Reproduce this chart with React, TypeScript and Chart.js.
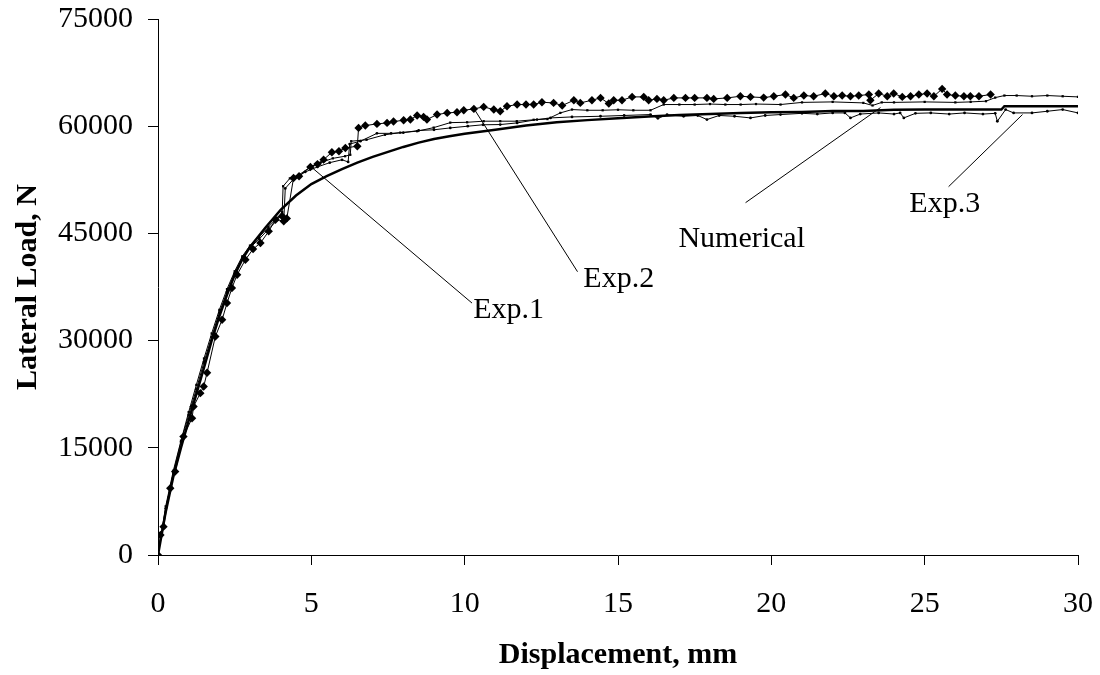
import React, { useEffect, useRef } from "react";
import { Chart, registerables } from "chart.js";

Chart.register(...registerables);

// ---- axis ticks ----
const X_TICKS = [0, 5, 10, 15, 20, 25, 30];
const Y_TICKS = [0, 15000, 30000, 45000, 60000, 75000];

// ---- Exp.1 (small square markers) ----
const EXP1_X = [0, 0.25, 0.5, 0.75, 1.0, 1.25, 1.5, 1.75, 2.0, 2.25, 2.5, 2.75, 3.0, 3.3, 3.6, 3.9, 4.05, 4.08, 4.3, 4.6, 4.97, 5.3, 5.7, 6.1, 6.27, 6.3, 6.8, 7.4, 7.9, 8.45, 8.99, 9.53, 10.08, 10.62, 11.16, 11.7, 12.25, 12.7, 13.12, 13.5, 14, 14.5, 15, 15.5, 16.06, 16.49, 17, 17.5, 18, 18.5, 19, 19.5, 20.3, 21, 22, 23, 23.3, 23.6, 24, 25, 26, 26.5, 27, 27.3, 27.6, 28, 28.5, 29, 29.5, 30];
const EXP1_Y = [0, 6800, 11800, 16000, 20000, 23800, 27500, 31000, 34300, 37200, 39700, 41800, 43300, 44500, 45900, 47200, 48000, 51600, 52700, 53200, 54300, 54900, 55500, 55800, 56000, 57900, 58100, 58800, 59100, 59300, 59800, 60500, 60550, 60700, 60700, 60700, 60900, 61000, 61860, 62330, 62230, 62230, 62300, 62230, 62230, 63030, 63030, 63030, 63100, 63030, 63030, 63100, 63030, 63330, 63400, 63260, 62900, 63330, 63330, 63400, 63330, 63400, 63500, 64000, 64290, 64290, 64190, 64290, 64190, 64100];

// ---- Exp.2 (diamond markers) ----
const EXP2_X = [0, 0.08, 0.18, 0.4, 0.56, 0.83, 1.11, 1.16, 1.38, 1.49, 1.6, 1.87, 2.09, 2.25, 2.41, 2.58, 2.85, 3.1, 3.34, 3.61, 3.83, 4.05, 4.1, 4.2, 4.42, 4.6, 4.97, 5.2, 5.4, 5.67, 5.9, 6.11, 6.5, 6.54, 6.76, 7.14, 7.47, 7.68, 8.01, 8.23, 8.45, 8.66, 8.77, 9.1, 9.43, 9.75, 9.97, 10.3, 10.62, 10.95, 11.16, 11.38, 11.71, 12.0, 12.25, 12.52, 12.9, 13.18, 13.56, 13.77, 14.15, 14.43, 14.7, 14.86, 15.13, 15.46, 15.84, 16.0, 16.27, 16.49, 16.82, 17.2, 17.5, 17.9, 18.12, 18.56, 18.99, 19.32, 19.75, 20.08, 20.46, 20.73, 21.06, 21.38, 21.76, 22.04, 22.31, 22.58, 22.85, 23.18, 23.23, 23.5, 23.78, 23.99, 24.27, 24.54, 24.81, 25.08, 25.3, 25.57, 25.73, 26.0, 26.28, 26.49, 26.77, 27.15];
const EXP2_Y = [0, 2800, 3970, 9340, 11670, 16570, 19140, 20770, 22650, 23580, 25500, 30580, 32910, 35250, 37350, 39220, 41320, 42800, 43660, 45290, 46920, 47400, 46700, 47100, 52760, 53000, 54300, 54700, 55320, 56350, 56500, 56960, 57200, 59760, 60090, 60320, 60460, 60650, 60830, 60930, 61490, 61300, 60930, 61630, 61860, 61950, 62230, 62420, 62700, 62330, 62090, 62790, 63030, 63030, 63030, 63350, 63260, 62890, 63630, 63260, 63630, 63960, 63170, 63630, 63630, 64100, 64100, 63630, 63820, 63630, 63960, 63960, 63960, 63960, 63820, 63960, 64190, 64100, 64000, 64190, 64430, 63960, 64290, 64190, 64570, 64190, 64290, 64190, 64290, 64430, 63630, 64570, 64190, 64570, 64100, 64190, 64430, 64570, 64190, 65220, 64430, 64290, 64190, 64190, 64190, 64430];

// ---- Exp.3 (small dot markers, jagged plateau) ----
const EXP3_X = [0, 0.25, 0.5, 0.75, 1.0, 1.25, 1.5, 1.75, 2.0, 2.25, 2.5, 2.75, 3.0, 3.3, 3.6, 3.9, 4.1, 4.15, 4.4, 4.8, 5.2, 5.6, 6.0, 6.2, 6.25, 6.6, 7.14, 7.6, 8.0, 8.5, 9.0, 9.53, 10.1, 10.6, 11.16, 11.71, 12.36, 12.8, 13.5, 14.43, 15.2, 16.06, 16.3, 16.6, 17.14, 17.6, 17.9, 18.3, 18.8, 19.32, 19.8, 20.3, 21, 21.5, 22, 22.4, 22.58, 22.9, 23.5, 24, 24.2, 24.32, 24.7, 25.2, 25.8, 26.3, 26.9, 27.3, 27.37, 27.64, 27.9, 28.5, 29.0, 29.5, 30];
const EXP3_Y = [0, 6500, 11500, 15800, 19600, 23200, 27000, 30500, 33900, 36800, 39400, 41600, 43000, 44200, 45600, 46900, 46700, 51300, 52500, 53600, 54300, 54900, 55300, 55000, 57500, 57900, 59000, 59000, 59100, 59400, 59500, 59760, 60000, 60200, 60230, 60460, 60930, 61160, 61300, 61390, 61500, 61630, 61100, 61600, 61390, 61500, 60930, 61500, 61390, 61160, 61500, 61630, 61800, 61700, 61860, 61860, 61160, 61700, 61860, 61700, 61860, 61160, 61800, 61860, 61700, 61860, 61700, 61800, 60690, 62330, 61860, 61860, 62090, 62330, 61860];

// ---- Numerical ----
const NUM_X = [0, 0.25, 0.5, 0.75, 1, 1.25, 1.5, 1.75, 2, 2.25, 2.5, 2.75, 3, 3.5, 4, 4.5, 5, 5.5, 6, 6.5, 7, 7.5, 8, 8.5, 9, 9.5, 10, 11, 12, 13, 14, 15, 16, 17, 18, 19, 20, 21, 22, 23, 24, 25, 26, 27, 27.5, 27.6, 28, 29, 30];
const NUM_Y = [0, 6000, 11000, 15000, 18800, 22500, 26200, 30000, 33400, 36400, 39200, 41400, 43100, 45800, 48300, 50300, 51900, 53000, 54000, 54900, 55700, 56400, 57100, 57700, 58200, 58600, 58950, 59500, 60100, 60550, 60850, 61100, 61350, 61550, 61720, 61850, 61950, 62000, 62140, 62140, 62300, 62330, 62330, 62330, 62330, 62790, 62790, 62790, 62790];

// ---- annotation labels (data coordinates) ----
const LABEL_TEXT = ["Exp.1", "Exp.2", "Numerical", "Exp.3"];
const LABEL_POS_X = [10.28, 13.87, 16.97, 24.5];
const LABEL_POS_Y = [33190, 37540, 43140, 48040];
const LEADER_FROM_X = [4.97, 10.28, 23.56, 28.19];
const LEADER_FROM_Y = [54390, 62610, 62610, 61630];
const LEADER_TO_X = [10.24, 13.68, 19.16, 25.78];
const LEADER_TO_Y = [35250, 39640, 49300, 51540];

const FONT = "'Liberation Serif', 'Times New Roman', serif";

const zip = (xs: number[], ys: number[]) => xs.map((x, i) => ({ x, y: ys[i] }));

const annotationPlugin = {
  id: "leaderLabels",
  afterDatasetsDraw(chart: any) {
    const { ctx, scales } = chart;
    const xs = scales.x;
    const ys = scales.y;
    ctx.save();
    ctx.strokeStyle = "#000";
    ctx.lineWidth = 1;
    for (let i = 0; i < LABEL_TEXT.length; i++) {
      ctx.beginPath();
      ctx.moveTo(xs.getPixelForValue(LEADER_FROM_X[i]), ys.getPixelForValue(LEADER_FROM_Y[i]));
      ctx.lineTo(xs.getPixelForValue(LEADER_TO_X[i]), ys.getPixelForValue(LEADER_TO_Y[i]));
      ctx.stroke();
    }
    ctx.fillStyle = "#000";
    ctx.font = `30px ${FONT}`;
    ctx.textAlign = "left";
    ctx.textBaseline = "alphabetic";
    for (let i = 0; i < LABEL_TEXT.length; i++) {
      ctx.fillText(LABEL_TEXT[i], xs.getPixelForValue(LABEL_POS_X[i]), ys.getPixelForValue(LABEL_POS_Y[i]));
    }
    ctx.restore();
  },
};

export default function App() {
  const ref = useRef<HTMLCanvasElement | null>(null);

  useEffect(() => {
    if (!ref.current) return;
    const black = "#000";
    const chart = new Chart(ref.current, {
      type: "line",
      data: {
        datasets: [
          {
            label: "Numerical",
            data: zip(NUM_X, NUM_Y),
            borderColor: black,
            backgroundColor: black,
            borderWidth: 2.5,
            pointRadius: 0,
          },
          {
            label: "Exp.3",
            data: zip(EXP3_X, EXP3_Y),
            borderColor: black,
            backgroundColor: black,
            borderWidth: 1,
            pointStyle: "circle",
            pointRadius: 1.4,
            pointBorderWidth: 0,
          },
          {
            label: "Exp.1",
            data: zip(EXP1_X, EXP1_Y),
            borderColor: black,
            backgroundColor: black,
            borderWidth: 1,
            pointStyle: "rect",
            pointRadius: 1.6,
            pointBorderWidth: 0,
          },
          {
            label: "Exp.2",
            data: zip(EXP2_X, EXP2_Y),
            borderColor: black,
            backgroundColor: black,
            borderWidth: 1,
            pointStyle: "rectRot",
            pointRadius: 4.2,
            pointBorderWidth: 0,
          },
        ],
      },
      options: {
        responsive: false,
        animation: false,
        parsing: false as any,
        layout: { padding: { top: 19, right: 22, bottom: 0, left: 0 } },
        elements: { line: { tension: 0 } },
        plugins: {
          legend: { display: false },
          tooltip: { enabled: false },
        },
        scales: {
          x: {
            type: "linear",
            min: 0,
            max: 30,
            afterBuildTicks: (s: any) => {
              s.ticks = X_TICKS.map((v) => ({ value: v }));
            },
            afterFit: (s: any) => {
              s.height = 120;
              s.paddingLeft = 0;
              s.paddingRight = 0;
            },
            grid: { drawOnChartArea: false, tickLength: 10, color: black, tickColor: black, lineWidth: 1 },
            border: { display: true, color: black, width: 1 },
            ticks: { color: black, font: { family: FONT, size: 30 }, padding: 21, maxRotation: 0, autoSkip: false },
            title: {
              display: true,
              text: "Displacement, mm",
              color: black,
              font: { family: FONT, size: 30, weight: "bold" },
              padding: { top: 0, bottom: 2 },
            },
          },
          y: {
            type: "linear",
            min: 0,
            max: 75000,
            afterBuildTicks: (s: any) => {
              s.ticks = Y_TICKS.map((v) => ({ value: v }));
            },
            afterFit: (s: any) => {
              s.width = 158;
              s.paddingTop = 0;
              s.paddingBottom = 0;
            },
            grid: { drawOnChartArea: false, tickLength: 10, color: black, tickColor: black, lineWidth: 1 },
            border: { display: true, color: black, width: 1 },
            ticks: { color: black, font: { family: FONT, size: 30 }, padding: 15, autoSkip: false, callback: (v: any) => String(v) },
            title: {
              display: true,
              text: "Lateral Load, N",
              color: black,
              font: { family: FONT, size: 30, weight: "bold" },
              padding: { top: 10, bottom: 0 },
            },
          },
        },
      },
      plugins: [annotationPlugin],
    });
    return () => chart.destroy();
  }, []);

  return (
    <div style={{ position: "fixed", left: 0, top: 0, width: 1100, height: 675, background: "#fff" }}>
      <canvas ref={ref} width={1100} height={675} style={{ display: "block", width: 1100, height: 675 }} />
    </div>
  );
}
